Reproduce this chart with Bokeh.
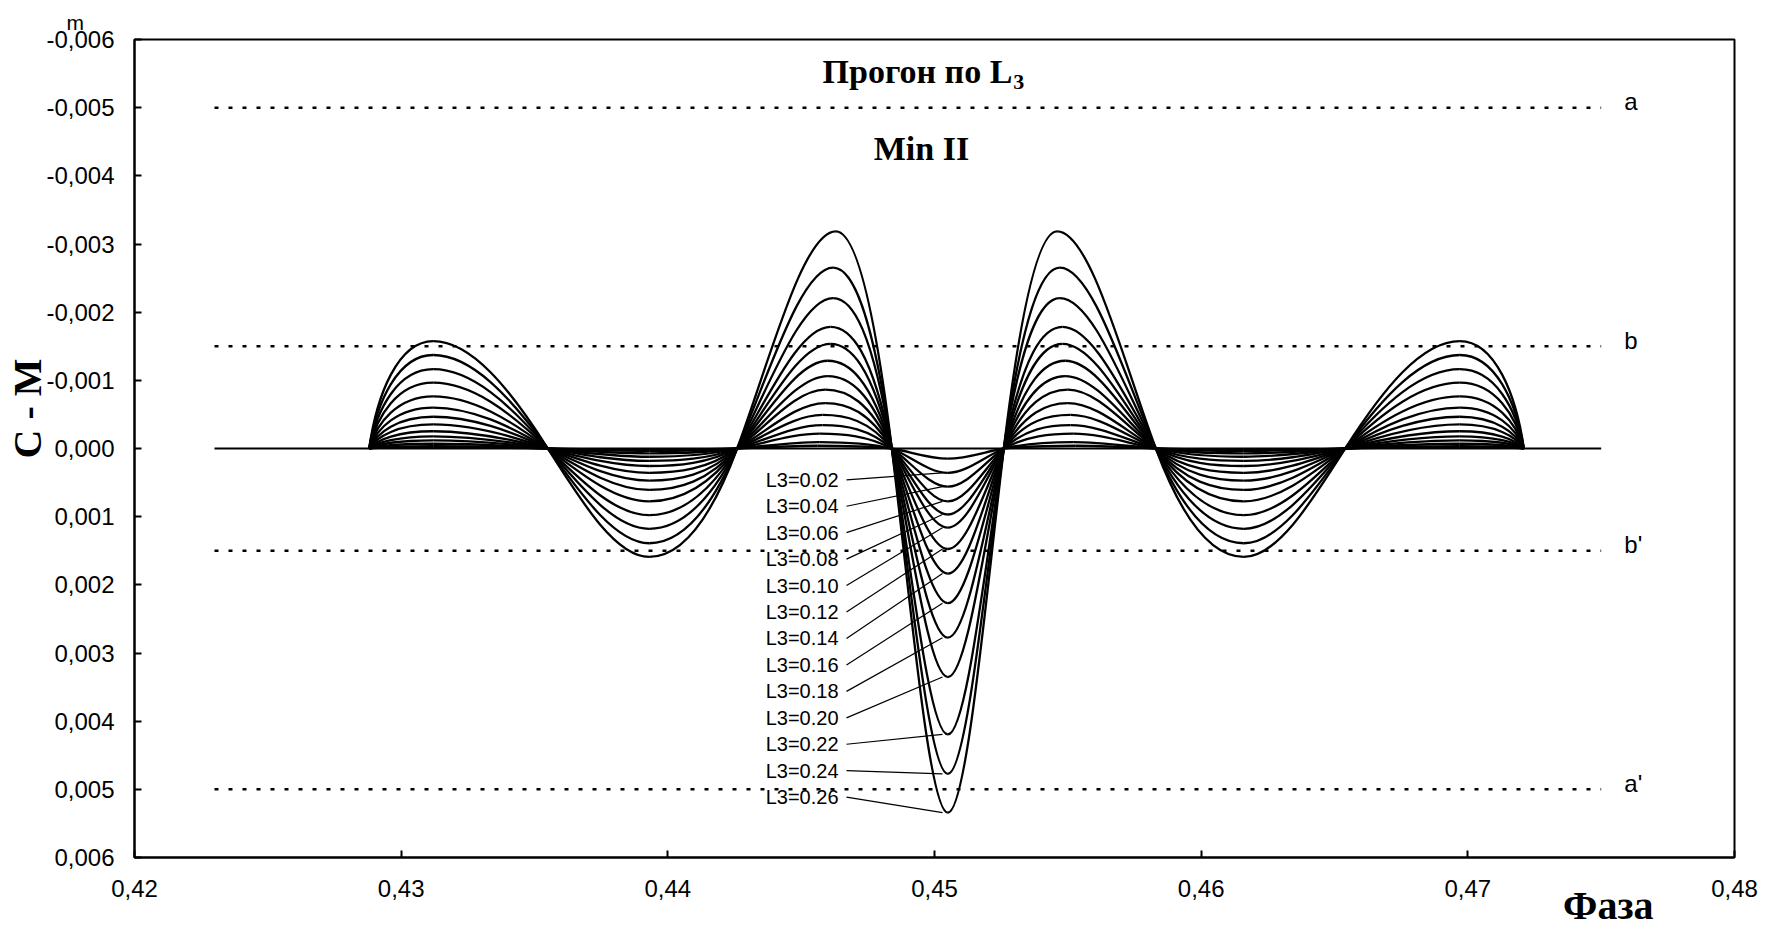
import math
from bokeh.plotting import figure
from bokeh.models import Range1d, Label, Title, FixedTicker, CustomJSTickFormatter, ColumnDataSource
from bokeh.core.properties import value
from bokeh.embed import file_html
from bokeh.resources import INLINE

# ---------------- data ----------------
x_ticks = [0.42, 0.43, 0.44, 0.45, 0.46, 0.47, 0.48]
x_tick_labels = ["0,42", "0,43", "0,44", "0,45", "0,46", "0,47", "0,48"]
y_ticks = [-0.006, -0.005, -0.004, -0.003, -0.002, -0.001, 0.0, 0.001, 0.002, 0.003, 0.004, 0.005, 0.006]
y_tick_labels = ["-0,006", "-0,005", "-0,004", "-0,003", "-0,002", "-0,001", "0,000",
                 "0,001", "0,002", "0,003", "0,004", "0,005", "0,006"]

# reference levels (dotted lines) and their letters
level_values = [-0.005, -0.0015, 0.0015, 0.005]
level_names = ["a", "b", "b'", "a'"]
level_x = [0.423, 0.475]

# zero baseline extent
baseline_x = [0.423, 0.475]

# curve labels (curve index 1..13); curve 0 is the smallest, unlabelled
l3_labels = ["L3=0.02", "L3=0.04", "L3=0.06", "L3=0.08", "L3=0.10", "L3=0.12", "L3=0.14",
             "L3=0.16", "L3=0.18", "L3=0.20", "L3=0.22", "L3=0.24", "L3=0.26"]

# phase positions of the characteristic points (rise, extrema, zero crossings, fall)
x_rise = 0.4288
peak1_x = 0.4312
cross1_x = 0.4355
trough1_x = 0.4393
cross2_x = 0.4426
peak2_x = [0.4456, 0.4457, 0.4457, 0.4458, 0.4458, 0.4459, 0.4459, 0.4460, 0.4460, 0.4461, 0.4461, 0.4462, 0.4462, 0.4463]
cross3_x = 0.4484
trough2_x = 0.4505
cross4_x = 0.4526
peak3_x = [0.4553, 0.4552, 0.4552, 0.4551, 0.4551, 0.4550, 0.4550, 0.4549, 0.4549, 0.4548, 0.4548, 0.4547, 0.4547, 0.4546]
cross5_x = 0.4583
trough3_x = 0.4616
cross6_x = 0.4654
peak4_x = 0.4697
x_fall = 0.4721

# extreme values of each curve (O-C in m), smallest curve first
peak1 = [-0.000020, -0.000034, -0.000070, -0.000119, -0.000179, -0.000253, -0.000353, -0.000466,
         -0.000601, -0.000765, -0.000965, -0.001163, -0.001372, -0.001576]
trough1 = [0.000020, 0.000035, 0.000071, 0.000121, 0.000182, 0.000257, 0.000358, 0.000472,
           0.000608, 0.000775, 0.000978, 0.001178, 0.001390, 0.001590]
peak2 = [-0.000040, -0.000094, -0.000218, -0.000343, -0.000492, -0.000667, -0.000865, -0.001063,
         -0.001287, -0.001536, -0.001785, -0.002207, -0.002654, -0.003186]
trough2 = [0.000149, 0.000357, 0.000559, 0.000776, 0.000968, 0.001161, 0.001474, 0.001835,
           0.002269, 0.002775, 0.003353, 0.004195, 0.004773, 0.005342]
peak3 = [-0.000040, -0.000094, -0.000218, -0.000343, -0.000492, -0.000667, -0.000865, -0.001063,
         -0.001287, -0.001536, -0.001785, -0.002207, -0.002654, -0.003186]
trough3 = [0.000020, 0.000035, 0.000071, 0.000121, 0.000182, 0.000257, 0.000358, 0.000472,
           0.000608, 0.000775, 0.000978, 0.001178, 0.001390, 0.001590]
peak4 = [-0.000020, -0.000034, -0.000070, -0.000119, -0.000179, -0.000253, -0.000353, -0.000466,
         -0.000601, -0.000765, -0.000965, -0.001163, -0.001372, -0.001576]

# ---------------- build smooth curve segments (Bezier) ----------------
seg = dict(x0=[], y0=[], x1=[], y1=[], cx0=[], cy0=[], cx1=[], cy1=[])


def add_seg(xa, ya, cxa, cya, cxb, cyb, xb, yb):
    seg["x0"].append(xa); seg["y0"].append(ya)
    seg["cx0"].append(cxa); seg["cy0"].append(cya)
    seg["cx1"].append(cxb); seg["cy1"].append(cyb)
    seg["x1"].append(xb); seg["y1"].append(yb)


n_curves = len(trough2)
for i in range(n_curves):
    xs = [x_rise, peak1_x, cross1_x, trough1_x, cross2_x, peak2_x[i], cross3_x, trough2_x,
          cross4_x, peak3_x[i], cross5_x, trough3_x, cross6_x, peak4_x, x_fall]
    ys = [0.0, peak1[i], 0.0, trough1[i], 0.0, peak2[i], 0.0, trough2[i],
          0.0, peak3[i], 0.0, trough3[i], 0.0, peak4[i], 0.0]
    ms = [0.0] * len(xs)
    for k in range(2, len(xs) - 1, 2):
        sl = -(math.pi / 2) * ys[k - 1] / (xs[k] - xs[k - 1])
        sr = (math.pi / 2) * ys[k + 1] / (xs[k + 1] - xs[k])
        ms[k] = 0.5 * (sl + sr)
    dx = xs[1] - xs[0]
    add_seg(xs[0], 0.0, xs[0] + 0.12 * dx, 0.5 * ys[1], xs[0] + 0.45 * dx, ys[1], xs[1], ys[1])
    for k in range(1, len(xs) - 2):
        xa, ya, ma = xs[k], ys[k], ms[k]
        xb, yb, mb = xs[k + 1], ys[k + 1], ms[k + 1]
        d = xb - xa
        cya = ya + ma * d / 3
        cyb = yb - mb * d / 3
        ext = ya if ya != 0 else yb
        lim = 0.85 * abs(ext)
        if ya == 0 and abs(cya) > lim:
            cya = math.copysign(lim, cya)
        if yb == 0 and abs(cyb) > lim:
            cyb = math.copysign(lim, cyb)
        add_seg(xa, ya, xa + d / 3, cya, xb - d / 3, cyb, xb, yb)
    dx = xs[-1] - xs[-2]
    add_seg(xs[-2], ys[-2], xs[-2] + 0.55 * dx, ys[-2], xs[-2] + 0.88 * dx, 0.5 * ys[-2], xs[-1], 0.0)

# ---------------- figure ----------------
p = figure(width=1773, height=926,
           x_range=Range1d(0.42, 0.48), y_range=Range1d(0.006, -0.006),
           output_backend="svg", toolbar_location=None,
           min_border_left=134, min_border_right=39, min_border_top=39, min_border_bottom=69)
p.background_fill_color = "white"
p.border_fill_color = "white"
p.outline_line_color = "black"
p.outline_line_width = 2
p.xgrid.visible = False
p.ygrid.visible = False

for ax in (p.xaxis[0], p.yaxis[0]):
    ax.axis_line_width = 2
    ax.axis_line_color = "black"
    ax.major_tick_in = 7
    ax.major_tick_out = 0
    ax.major_tick_line_width = 2
    ax.minor_tick_line_color = None
    ax.major_label_text_font = "Liberation Sans"
    ax.major_label_text_font_size = "24px"
    ax.major_label_text_color = "black"

p.xaxis.ticker = FixedTicker(ticks=x_ticks)
p.yaxis.ticker = FixedTicker(ticks=y_ticks)
fmt_code = """
let best = -1, bd = 1e9;
for (let i = 0; i < vals.length; i++) { const d = Math.abs(vals[i] - tick); if (d < bd) { bd = d; best = i; } }
return bd < 1e-9 ? labs[best] : "";
"""
p.xaxis.formatter = CustomJSTickFormatter(args=dict(vals=x_ticks, labs=x_tick_labels), code=fmt_code)
p.yaxis.formatter = CustomJSTickFormatter(args=dict(vals=y_ticks, labs=y_tick_labels), code=fmt_code)
p.xaxis.major_label_standoff = 22
p.yaxis.major_label_standoff = 20

# dotted reference lines
p.segment(x0=[level_x[0]] * len(level_values), x1=[level_x[1]] * len(level_values),
          y0=level_values, y1=level_values, line_color="black", line_width=2.5, line_dash="4 10")
p.text(x=[0.47587] * len(level_values), y=level_values, text=level_names,
       text_font=value("Liberation Sans"), text_font_size="24px", text_align="left",
       text_baseline="middle", text_color="black", y_offset=-6)

# zero baseline
p.line(x=baseline_x, y=[0.0, 0.0], line_color="black", line_width=2)

# the curves
p.bezier(source=ColumnDataSource(seg), x0="x0", y0="y0", x1="x1", y1="y1",
         cx0="cx0", cy0="cy0", cx1="cx1", cy1="cy1", line_color="black", line_width=2.3)

# curve labels with leader lines
lab_x = 0.4464
lab_y0 = 0.000459
lab_step = 0.000388
lab_y = [lab_y0 + k * lab_step for k in range(len(l3_labels))]
p.segment(x0=[0.4467] * len(l3_labels), y0=lab_y,
          x1=[0.4503] * len(l3_labels), y1=trough2[1:],
          line_color="black", line_width=1.2)
p.text(x=[lab_x] * len(l3_labels), y=lab_y, text=l3_labels,
       text_font=value("Liberation Sans"), text_font_size="20px", text_align="right",
       text_baseline="middle", text_color="black")

# titles inside the plot
p.add_layout(Label(x=0.45292, y=-0.005535, text="Прогон по L", text_font="Liberation Serif",
                   text_font_style="bold", text_font_size="34px", text_align="right",
                   text_baseline="middle", text_color="black"))
p.add_layout(Label(x=0.45295, y=-0.005380, text="3", text_font="Liberation Serif",
                   text_font_style="bold", text_font_size="22px", text_align="left",
                   text_baseline="middle", text_color="black"))
p.add_layout(Label(x=0.44951, y=-0.004401, text="Min II", text_font="Liberation Serif",
                   text_font_style="bold", text_font_size="34px", text_align="center",
                   text_baseline="middle", text_color="black"))

# captions outside the frame (side panels)
p.add_layout(Title(text="m", align="left", offset=-68, standoff=12,
                   text_font="Liberation Sans", text_font_style="normal",
                   text_font_size="21px", text_color="black"), "above")
p.add_layout(Title(text="C - M", align="left", offset=399, standoff=-12,
                   text_font="Liberation Serif", text_font_style="bold",
                   text_font_size="40px", text_color="black"), "left")
p.add_layout(Title(text="Фаза", align="right", offset=81, standoff=-38,
                   text_font="Liberation Serif", text_font_style="bold",
                   text_font_size="40px", text_color="black"), "below")

open("out.html", "w").write(file_html(p, INLINE))
